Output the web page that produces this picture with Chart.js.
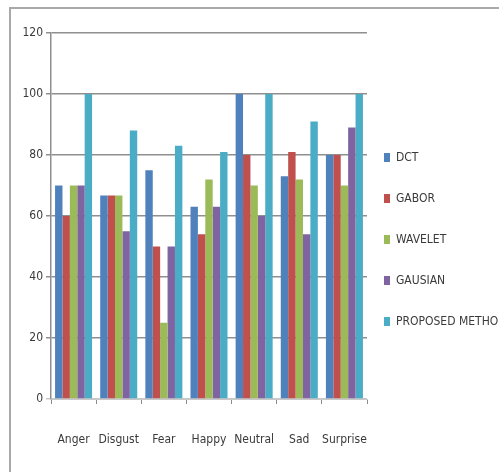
<!DOCTYPE html>
<html>
<head>
<meta charset="utf-8">
<script src="https://cdn.jsdelivr.net/npm/chart.js@4.4.1/dist/chart.umd.min.js"></script>
<style>
  html, body { margin: 0; padding: 0; background: #fff; overflow: hidden; }
  #frame {
    position: absolute; left: 9px; top: 7px; width: 600px; height: 600px;
    border-left: 2px solid #a9a9a9; border-top: 2px solid #a9a9a9;
  }
  #wrap { position: absolute; left: 0; top: 0; width: 499px; height: 472px; }
</style>
</head>
<body>
<div id="frame"></div>
<div id="wrap"><canvas id="chart" width="499" height="472"></canvas></div>
<script>
// --- data ---
const categories = ['Anger', 'Disgust', 'Fear', 'Happy', 'Neutral', 'Sad', 'Surprise'];
const dctValues = [70, 66.7, 75, 63, 100, 73, 80];
const gaborValues = [60, 66.7, 50, 54, 80, 81, 80];
const waveletValues = [70, 66.7, 25, 72, 70, 72, 70];
const gausianValues = [70, 55, 50, 63, 60, 54, 89];
const proposedValues = [100, 88, 83, 81, 100, 91, 100];
const yTicks = [0, 20, 40, 60, 80, 100, 120];

// legend sits a bit closer to the plot than labels.padding would put it
const LEGEND_DX = -12;
const LEGEND_DY = -13;

const legendShift = {
    id: 'legendShift',
    afterLayout(chart) {
        const lg = chart.legend;
        if (!lg) return;
        lg.left += LEGEND_DX;   // right edge kept so the long label is not clipped early
        lg.top += LEGEND_DY; lg.bottom += LEGEND_DY;
    }
};

Chart.defaults.font.family = "'Liberation Sans Narrow', 'DejaVu Sans Condensed', sans-serif";
Chart.defaults.font.size = 12;
Chart.defaults.color = '#3a3a3a';

function series(label, data, color) {
    return { label, data, backgroundColor: color, borderWidth: 0,
             categoryPercentage: 0.82, barPercentage: 1.0 };
}

document.addEventListener('DOMContentLoaded', () => {
    const ctx = document.getElementById('chart').getContext('2d');
    new Chart(ctx, {
        type: 'bar',
        data: {
            labels: categories,
            datasets: [
                series('DCT', dctValues, '#4f81bd'),
                series('GABOR', gaborValues, '#c0504d'),
                series('WAVELET', waveletValues, '#9bbb59'),
                series('GAUSIAN', gausianValues, '#8064a2'),
                series('PROPOSED METHOD', proposedValues, '#4bacc6')
            ]
        },
        options: {
            responsive: false,
            animation: false,
            layout: { padding: { top: 33, left: 0, right: 0, bottom: 0 } },
            plugins: {
                tooltip: { enabled: false },
                legend: {
                    position: 'right',
                    align: 'center',
                    maxWidth: 132,
                    labels: { boxWidth: 6, boxHeight: 9, padding: 29, color: '#3a3a3a',
                              font: { size: 12 } }
                }
            },
            scales: {
                x: {
                    grid: { drawOnChartArea: false, drawTicks: true, tickLength: 5, color: '#8a8a8a' },
                    border: { color: '#c8c8c8', width: 1 },
                    ticks: { padding: 29, color: '#3a3a3a', maxRotation: 0, minRotation: 0, autoSkip: false },
                    afterFit(scale) { scale.height = 73; }
                },
                y: {
                    min: 0, max: 120,
                    afterBuildTicks(scale) { scale.ticks = yTicks.map(v => ({ value: v })); },
                    grid: {
                        color: c => (c.tick && c.tick.value === 0) ? '#c8c8c8' : '#8f8f8f',
                        lineWidth: 1.5, tickLength: 5
                    },
                    border: { color: '#8f8f8f', width: 1.5 },
                    ticks: { padding: 3, color: '#3a3a3a' },
                    afterFit(scale) { scale.width = 51; }
                }
            }
        },
        plugins: [legendShift]
    });
});
</script>
</body>
</html>
